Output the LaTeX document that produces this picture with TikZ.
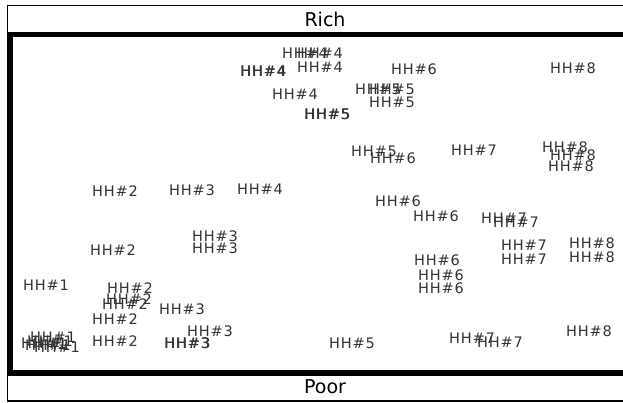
\documentclass[tikz,border=0pt]{standalone}
\usepackage{fontspec}
\setmainfont{DejaVu Sans}
\newfontfamily\hhfont[LetterSpace=6]{DejaVu Sans}
\usetikzlibrary{positioning}

\begin{document}
\begin{tikzpicture}[%
x=1pt,
y=-1pt,
hh/.style={text=black!80, inner sep=0pt, font=\hhfont\fontsize{14.5}{16}\selectfont},
side/.style={inner sep=0pt, font=\fontsize{19}{21}\selectfont}
]
\useasboundingbox (0,0) rectangle (623,403);

% frames
\draw[line width=1.2pt] (7.5,5.5) rectangle (660,401);
\draw[line width=5.5pt] (10.5,34.5) rectangle (660,373);
\node[side] (rich) at (325,19) {Rich};
\node[side] (poor) at (325,387) {Poor};

% HH#1
\node[hh] (h1a) at (46,285) {HH\#1};
\node[hh] (h1b) at (53,337) {HH\#1};
\node[hh] (h1c) at (44,343) {HH\#1};
\node[hh] (h1d) at (50,341) {HH\#1};
\node[hh] (h1e) at (57,347) {HH\#1};
\node[hh] (h1f) at (48,345) {HH\#1};

% HH#2
\node[hh] (h2a) at (115,191) {HH\#2};
\node[hh] (h2b) at (113,250) {HH\#2};
\node[hh] (h2c) at (130,288) {HH\#2};
\node[hh] (h2d) at (129,299) {HH\#2};
\node[hh] (h2e) at (125,304) {HH\#2};
\node[hh] (h2f) at (115,319) {HH\#2};
\node[hh] (h2g) at (115,341) {HH\#2};

% HH#3
\node[hh] (h3a) at (192,190) {HH\#3};
\node[hh] (h3b) at (215,236) {HH\#3};
\node[hh] (h3c) at (215,248) {HH\#3};
\node[hh] (h3d) at (182,309) {HH\#3};
\node[hh] (h3e) at (210,331) {HH\#3};
\node[hh] (h3f) at (187,343) {HH\#3};
\node[hh] (h3f') at (187.6,343) {HH\#3};

% HH#4
\node[hh] (h4a) at (305,53) {HH\#4};
\node[hh] (h4b) at (320,53) {HH\#4};
\node[hh] (h4c) at (320,67) {HH\#4};
\node[hh] (h4d) at (263,71) {HH\#4};
\node[hh] (h4d') at (263.6,71) {HH\#4};
\node[hh] (h4e) at (295,94) {HH\#4};
\node[hh] (h4f) at (260,189) {HH\#4};

% HH#5
\node[hh] (h5a) at (327,114) {HH\#5};
\node[hh] (h5a') at (327.6,114) {HH\#5};
\node[hh] (h5b) at (378,89) {HH\#5};
\node[hh] (h5c) at (392,89) {HH\#5};
\node[hh] (h5d) at (392,102) {HH\#5};
\node[hh] (h5e) at (374,151) {HH\#5};
\node[hh] (h5f) at (352,343) {HH\#5};

% HH#6
\node[hh] (h6a) at (414,69) {HH\#6};
\node[hh] (h6b) at (393,158) {HH\#6};
\node[hh] (h6c) at (398,201) {HH\#6};
\node[hh] (h6d) at (436,216) {HH\#6};
\node[hh] (h6e) at (437,260) {HH\#6};
\node[hh] (h6f) at (441,275) {HH\#6};
\node[hh] (h6g) at (441,288) {HH\#6};

% HH#7
\node[hh] (h7a) at (474,150) {HH\#7};
\node[hh] (h7b) at (504,218) {HH\#7};
\node[hh] (h7c) at (516,222) {HH\#7};
\node[hh] (h7d) at (524,245) {HH\#7};
\node[hh] (h7e) at (524,259) {HH\#7};
\node[hh] (h7f) at (472,338) {HH\#7};
\node[hh] (h7g) at (500,342) {HH\#7};

% HH#8
\node[hh] (h8a) at (573,68) {HH\#8};
\node[hh] (h8b) at (565,147) {HH\#8};
\node[hh] (h8c) at (573,155) {HH\#8};
\node[hh] (h8d) at (571,166) {HH\#8};
\node[hh] (h8e) at (592,243) {HH\#8};
\node[hh] (h8f) at (592,257) {HH\#8};
\node[hh] (h8g) at (589,331) {HH\#8};
\end{tikzpicture}
\end{document}
